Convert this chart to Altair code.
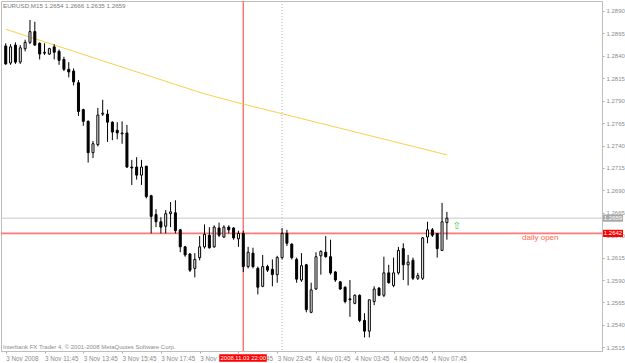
import altair as alt
import pandas as pd

# ---------------- data (EURUSD M15, 3-4 Nov 2008) ----------------
bar_idx = list(range(-1, 91))  # bar number, 0 = 3 Nov 10:00, 15 min each

opens = [1.2851, 1.2832, 1.2852, 1.2833, 1.2848, 1.2855, 1.2867, 1.2854, 1.2843, 1.2842,
         1.2850, 1.2845, 1.2836, 1.2825, 1.2823, 1.2810, 1.2780, 1.2767, 1.2732, 1.2741,
         1.2775, 1.2775, 1.2766, 1.2757, 1.2753, 1.2754, 1.2716, 1.2716, 1.2707, 1.2717,
         1.2684, 1.2663, 1.2655, 1.2650, 1.2664, 1.2665, 1.2646, 1.2627, 1.2619, 1.2603,
         1.2615, 1.2627, 1.2640, 1.2627, 1.2648, 1.2638, 1.2649, 1.2648, 1.2636, 1.2642,
         1.2605, 1.2620, 1.2603, 1.2583, 1.2605, 1.2602, 1.2596, 1.2615, 1.2642, 1.2630,
         1.2613, 1.2590, 1.2607, 1.2554, 1.2580, 1.2617, 1.2621, 1.2616, 1.2599, 1.2588,
         1.2582, 1.2569, 1.2564, 1.2573, 1.2545, 1.2533, 1.2566, 1.2581, 1.2573, 1.2598,
         1.2584, 1.2598, 1.2625, 1.2607, 1.2612, 1.2592, 1.2592, 1.2638, 1.2646, 1.2642,
         1.2623, 1.2654]
highs = [1.2854, 1.2853, 1.2855, 1.2852, 1.2858, 1.2880, 1.2878, 1.2855, 1.2854, 1.2849,
         1.2853, 1.2847, 1.2839, 1.2833, 1.2826, 1.2813, 1.2781, 1.2768, 1.2745, 1.2782,
         1.2791, 1.2780, 1.2767, 1.2766, 1.2767, 1.2763, 1.2724, 1.2727, 1.2724, 1.2717,
         1.2685, 1.2669, 1.2660, 1.2668, 1.2677, 1.2679, 1.2647, 1.2628, 1.2620, 1.2620,
         1.2639, 1.2652, 1.2649, 1.2651, 1.2654, 1.2651, 1.2651, 1.2649, 1.2645, 1.2645,
         1.2627, 1.2626, 1.2605, 1.2618, 1.2607, 1.2613, 1.2617, 1.2648, 1.2646, 1.2631,
         1.2615, 1.2620, 1.2608, 1.2587, 1.2621, 1.2623, 1.2639, 1.2635, 1.2600, 1.2589,
         1.2583, 1.2590, 1.2574, 1.2574, 1.2553, 1.2568, 1.2583, 1.2582, 1.2616, 1.2607,
         1.2615, 1.2627, 1.2631, 1.2618, 1.2615, 1.2598, 1.2638, 1.2655, 1.2648, 1.2642,
         1.2676, 1.2666]
lows = [1.2830, 1.2830, 1.2831, 1.2831, 1.2845, 1.2853, 1.2851, 1.2836, 1.2841, 1.2841,
        1.2836, 1.2830, 1.2823, 1.2816, 1.2807, 1.2773, 1.2762, 1.2721, 1.2726, 1.2739,
        1.2773, 1.2744, 1.2746, 1.2747, 1.2742, 1.2715, 1.2696, 1.2702, 1.2696, 1.2681,
        1.2642, 1.2649, 1.2642, 1.2642, 1.2649, 1.2642, 1.2621, 1.2616, 1.2599, 1.2593,
        1.2612, 1.2625, 1.2625, 1.2626, 1.2638, 1.2637, 1.2642, 1.2635, 1.2627, 1.2599,
        1.2603, 1.2603, 1.2574, 1.2582, 1.2599, 1.2583, 1.2587, 1.2613, 1.2628, 1.2613,
        1.2587, 1.2588, 1.2554, 1.2553, 1.2579, 1.2596, 1.2615, 1.2596, 1.2588, 1.2579,
        1.2564, 1.2549, 1.2563, 1.2543, 1.2526, 1.2526, 1.2562, 1.2572, 1.2571, 1.2586,
        1.2582, 1.2596, 1.2590, 1.2584, 1.2590, 1.2590, 1.2590, 1.2631, 1.2638, 1.2615,
        1.2623, 1.2635]
closes = [1.2831, 1.2850, 1.2833, 1.2849, 1.2855, 1.2867, 1.2852, 1.2842, 1.2844, 1.2848,
          1.2844, 1.2835, 1.2825, 1.2822, 1.2811, 1.2778, 1.2767, 1.2732, 1.2742, 1.2774,
          1.2776, 1.2766, 1.2755, 1.2754, 1.2754, 1.2716, 1.2715, 1.2707, 1.2716, 1.2683,
          1.2661, 1.2655, 1.2649, 1.2664, 1.2666, 1.2645, 1.2627, 1.2618, 1.2601, 1.2613,
          1.2627, 1.2641, 1.2626, 1.2649, 1.2640, 1.2649, 1.2646, 1.2637, 1.2642, 1.2605,
          1.2621, 1.2605, 1.2582, 1.2605, 1.2601, 1.2596, 1.2615, 1.2642, 1.2631, 1.2615,
          1.2591, 1.2606, 1.2557, 1.2579, 1.2616, 1.2622, 1.2616, 1.2598, 1.2590, 1.2580,
          1.2566, 1.2568, 1.2573, 1.2545, 1.2533, 1.2568, 1.2580, 1.2573, 1.2598, 1.2587,
          1.2598, 1.2623, 1.2607, 1.2610, 1.2592, 1.2595, 1.2637, 1.2646, 1.2640, 1.2625,
          1.2655, 1.2659]
moving_avg = [1.28697, 1.28679, 1.28662, 1.28644, 1.28627, 1.28609, 1.28591, 1.28574, 1.28556, 1.28539,
              1.28521, 1.28503, 1.28486, 1.28468, 1.28451, 1.28433, 1.28415, 1.28398, 1.28380, 1.28363,
              1.28345, 1.28327, 1.28310, 1.28292, 1.28275, 1.28257, 1.28239, 1.28222, 1.28204, 1.28187,
              1.28169, 1.28151, 1.28134, 1.28116, 1.28099, 1.28081, 1.28063, 1.28046, 1.28028, 1.28011,
              1.27993, 1.27977, 1.27962, 1.27947, 1.27932, 1.27918, 1.27904, 1.27890, 1.27876, 1.27863,
              1.27849, 1.27836, 1.27822, 1.27809, 1.27795, 1.27782, 1.27768, 1.27755, 1.27741, 1.27728,
              1.27714, 1.27701, 1.27687, 1.27674, 1.27660, 1.27647, 1.27633, 1.27620, 1.27606, 1.27593,
              1.27579, 1.27566, 1.27552, 1.27539, 1.27525, 1.27512, 1.27498, 1.27485, 1.27471, 1.27458,
              1.27444, 1.27431, 1.27417, 1.27404, 1.27390, 1.27377, 1.27363, 1.27350, 1.27336, 1.27323,
              1.27309, 1.27296]

x_tick_idx = [-1, 7, 15, 23, 31, 39, 47, 55, 63, 71, 79, 87]
x_tick_labels = ["3 Nov 2008", "3 Nov 11:45", "3 Nov 13:45", "3 Nov 15:45", "3 Nov 17:45",
                 "3 Nov 19:45", "3 Nov 21:45", "3 Nov 23:45", "4 Nov 01:45", "4 Nov 03:45",
                 "4 Nov 05:45", "4 Nov 07:45"]
y_ticks = [1.2515, 1.2540, 1.2565, 1.2590, 1.2615, 1.2640, 1.2665, 1.2690, 1.2715,
           1.2740, 1.2765, 1.2790, 1.2815, 1.2840, 1.2865, 1.2890]

symbol = "EURUSD,M15"
copyright_text = "Interbank FX Trader 4, © 2001-2008 MetaQuotes Software Corp."
daily_open = 1.2642
daily_open_text = "daily open"
bid = 1.2659
vline_idx = 48
vline_text = "2008.11.03 22:00"
day_sep_idx = 56
arrow_idx = 92
arrow_price = 1.2650

# ---------------- chart ----------------
FONT = "Liberation Sans"
xs = alt.Scale(domain=[-0.945, 120.96], nice=False, zero=False)
ys = alt.Scale(domain=[1.251087, 1.290115], nice=False, zero=False)

label_expr = ("[" + ",".join("'%s'" % t for t in x_tick_labels) + "][indexof(["
              + ",".join(str(v) for v in x_tick_idx) + "], datum.value)]")
x_axis = alt.Axis(values=x_tick_idx, labelExpr=label_expr, title=None, grid=False,
                  labelAlign="left", labelBaseline="top", labelFontSize=6.3,
                  labelColor="#8c8c8c", labelFont=FONT, tickSize=2, tickColor="#a8a8a8",
                  labelPadding=2, labelOverlap=False, labelFlush=False,
                  domainColor="#bdbdbd")
y_axis = alt.Axis(values=y_ticks, format=".4f", orient="right", title=None, grid=False,
                  labelFontSize=6, labelColor="#8c8c8c", labelFont=FONT, tickSize=2,
                  tickColor="#a8a8a8", labelPadding=2, labelOverlap=False,
                  labelFlush=False, domainColor="#bdbdbd")

X = alt.X("i:Q", scale=xs, axis=x_axis)

df = pd.DataFrame({"i": bar_idx, "open": opens, "high": highs, "low": lows,
                   "close": closes, "ma": moving_avg})
base = alt.Chart(df)

ma_line = base.mark_line(color="#f7cf48", strokeWidth=1, clip=True).encode(
    x=X, y=alt.Y("ma:Q", scale=ys, axis=y_axis))

bid_df = pd.DataFrame({"p": [bid]})
bid_line = alt.Chart(bid_df).mark_rule(color="#c8c8c8", strokeWidth=1).encode(
    y=alt.Y("p:Q", scale=ys, axis=y_axis))

vl_df = pd.DataFrame({"i": [vline_idx]})
vline = alt.Chart(vl_df).mark_rule(color="#ff7070", strokeWidth=1.4).encode(x=X)
sep_df = pd.DataFrame({"i": [day_sep_idx]})
sepline = alt.Chart(sep_df).mark_rule(color="#b4b4b4", strokeWidth=1, strokeDash=[1, 2]).encode(x=X)

open_df = pd.DataFrame({"p": [daily_open]})
open_line = alt.Chart(open_df).mark_rule(color="#ff7878", strokeWidth=1.6).encode(
    y=alt.Y("p:Q", scale=ys, axis=y_axis))

wicks = base.mark_rule(color="#000000", strokeWidth=1, clip=True).encode(
    x=X, y=alt.Y("low:Q", scale=ys, axis=y_axis), y2="high:Q")
bodies = base.mark_bar(size=2, stroke="#000000", strokeWidth=1, clip=True).encode(
    x=X, y=alt.Y("open:Q", scale=ys, axis=y_axis), y2="close:Q",
    fill=alt.condition("datum.close >= datum.open", alt.value("#ffffff"), alt.value("#000000")))

# text annotations
title_df = pd.DataFrame({"t": ["%s  %.4f %.4f %.4f %.4f" % (symbol, opens[-1], highs[-1], lows[-1], closes[-1])]})
title_txt = alt.Chart(title_df).mark_text(align="left", baseline="middle", fontSize=6.2,
                                          font=FONT, color="#7a7a7a").encode(
    x=alt.value(2), y=alt.value(5), text="t:N")
copy_df = pd.DataFrame({"t": [copyright_text]})
copy_txt = alt.Chart(copy_df).mark_text(align="left", baseline="middle", fontSize=6,
                                        font=FONT, color="#8c8c8c").encode(
    x=alt.value(2), y=alt.value(345.5), text="t:N")

do_df = pd.DataFrame({"p": [daily_open], "t": [daily_open_text]})
do_txt = alt.Chart(do_df).mark_text(align="left", baseline="middle", fontSize=8, dy=4.5,
                                    font=FONT, color="#ff6a4d").encode(
    x=alt.value(521), y=alt.Y("p:Q", scale=ys, axis=y_axis), text="t:N")

arrow_df = pd.DataFrame({"i": [arrow_idx], "p": [arrow_price], "t": ["⇧"]})
arrow_txt = alt.Chart(arrow_df).mark_text(align="center", baseline="middle", fontSize=10,
                                          font="DejaVu Sans", color="#3ccf3c").encode(
    x=X, y=alt.Y("p:Q", scale=ys, axis=y_axis), text="t:N")

# price labels on the right axis
plab_df = pd.DataFrame({"p": [bid, daily_open], "t": ["%.4f" % bid, "%.4f" % daily_open],
                        "c": ["bid", "open"]})
plab_box = alt.Chart(plab_df).mark_rect(yOffset=-3.6, y2Offset=3.6).encode(
    x=alt.value(602), x2=alt.value(622),
    y=alt.Y("p:Q", scale=ys, axis=y_axis), y2="p:Q",
    fill=alt.Fill("c:N", scale=alt.Scale(domain=["bid", "open"], range=["#a9a9a9", "#ff0000"]),
                  legend=None))
plab_txt = alt.Chart(plab_df).mark_text(align="center", baseline="middle", fontSize=6,
                                        font=FONT, color="#ffffff").encode(
    x=alt.value(612), y=alt.Y("p:Q", scale=ys, axis=y_axis), text="t:N")

# date label at the bottom
dl_df = pd.DataFrame({"i": [vline_idx], "t": [vline_text]})
dl_box = alt.Chart(dl_df).mark_rect(color="#ff0000", xOffset=-24, x2Offset=23.5).encode(
    x=X, x2="i:Q", y=alt.value(353.3), y2=alt.value(360.8))
dl_txt = alt.Chart(dl_df).mark_text(align="center", baseline="middle", fontSize=5.9,
                                    font=FONT, color="#ffffff").encode(
    x=X, y=alt.value(357), text="t:N")

chart = alt.layer(
    bid_line, sepline, vline, open_line, ma_line, wicks, bodies,
    title_txt, copy_txt, do_txt, arrow_txt, plab_box, plab_txt, dl_box, dl_txt
).properties(
    width=601, height=350,
    padding={"left": 1, "top": 1, "right": 23, "bottom": 12},
    autosize=alt.AutoSizeParams(type="none"),
    background="#ffffff",
).configure_view(stroke="#bdbdbd", strokeWidth=1)

chart.save("out.html", embed_options={"renderer": "svg", "actions": False})
